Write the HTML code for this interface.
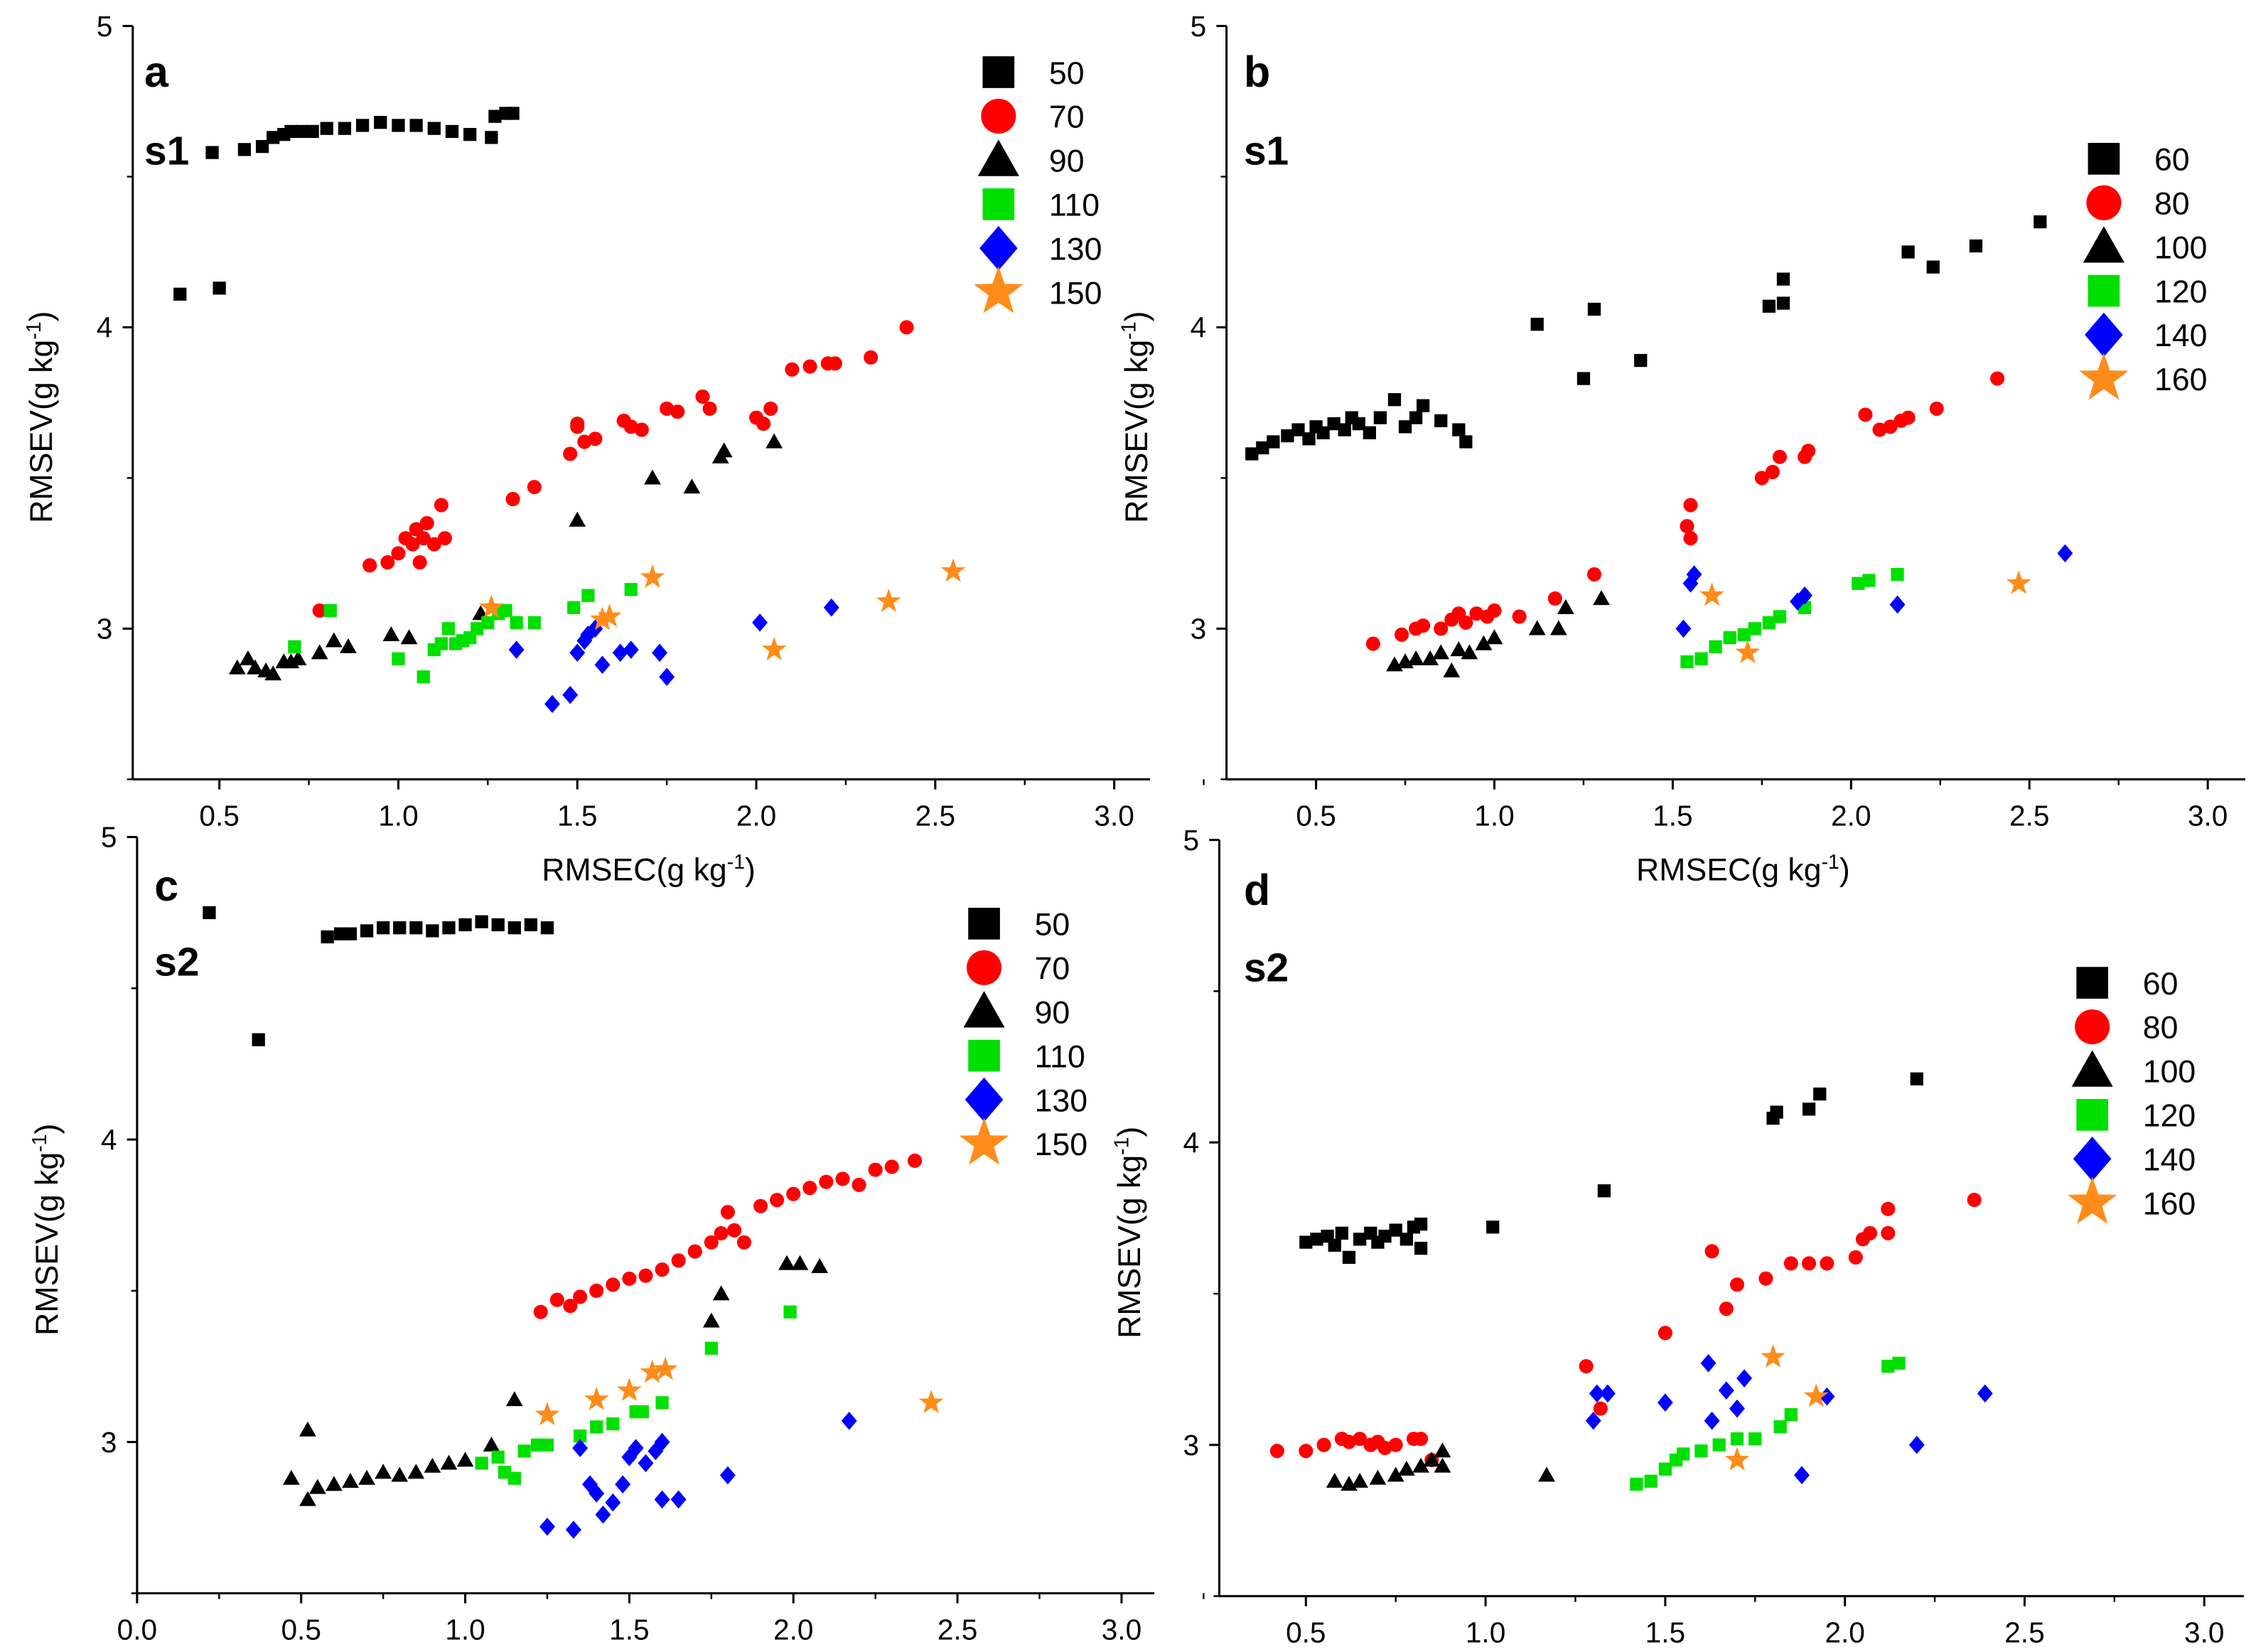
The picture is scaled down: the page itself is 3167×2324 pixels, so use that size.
<!DOCTYPE html>
<html><head><meta charset="utf-8"><style>
html,body{margin:0;padding:0;background:#fff}
svg{display:block}
text{font-family:"Liberation Sans",Arial,sans-serif;fill:#000}
</style></head><body>
<svg id="chart" xmlns="http://www.w3.org/2000/svg" width="3167" height="2324" viewBox="0 0 1560 1144.7" preserveAspectRatio="none"></svg>
<script>
// ---------- DATA ----------
const aS50=[[0.39,4.11],[0.5,4.13],[0.48,4.58],[0.57,4.59],[0.62,4.6],[0.65,4.63],[0.68,4.64],[0.7,4.65],[0.73,4.65],[0.76,4.65],[0.8,4.66],[0.85,4.66],[0.9,4.67],[0.95,4.68],[1.0,4.67],[1.05,4.67],[1.1,4.66],[1.15,4.65],[1.2,4.64],[1.26,4.63],[1.27,4.7],[1.3,4.71],[1.32,4.71]];
const aS70=[[0.78,3.06],[0.92,3.21],[0.97,3.22],[1.0,3.25],[1.02,3.3],[1.04,3.28],[1.05,3.33],[1.07,3.3],[1.08,3.35],[1.06,3.22],[1.1,3.28],[1.13,3.3],[1.12,3.41],[1.32,3.43],[1.38,3.47],[1.48,3.58],[1.5,3.67],[1.52,3.62],[1.55,3.63],[1.5,3.68],[1.63,3.69],[1.65,3.67],[1.68,3.66],[1.75,3.73],[1.78,3.72],[1.85,3.77],[1.87,3.73],[2.0,3.7],[2.02,3.68],[2.04,3.73],[2.1,3.86],[2.15,3.87],[2.2,3.88],[2.22,3.88],[2.32,3.9],[2.42,4.0]];
const aS90=[[0.55,2.87],[0.58,2.9],[0.6,2.87],[0.63,2.86],[0.65,2.85],[0.68,2.89],[0.7,2.89],[0.72,2.9],[0.78,2.92],[0.82,2.96],[0.86,2.94],[0.98,2.98],[1.03,2.97],[1.23,3.05],[1.5,3.36],[1.71,3.5],[1.82,3.47],[1.9,3.57],[1.91,3.59],[2.05,3.62]];
const aS110=[[0.71,2.94],[0.81,3.06],[1.0,2.9],[1.07,2.84],[1.1,2.93],[1.12,2.95],[1.14,3.0],[1.16,2.95],[1.18,2.96],[1.2,2.97],[1.22,3.0],[1.25,3.02],[1.28,3.05],[1.3,3.06],[1.33,3.02],[1.38,3.02],[1.49,3.07],[1.53,3.11],[1.65,3.13]];
const aS130=[[1.33,2.93],[1.43,2.75],[1.48,2.78],[1.5,2.92],[1.52,2.96],[1.53,2.98],[1.55,3.0],[1.57,2.88],[1.62,2.92],[1.65,2.93],[1.73,2.92],[1.75,2.84],[2.01,3.02],[2.21,3.07]];
const aS150=[[1.26,3.07],[1.57,3.03],[1.59,3.04],[1.71,3.17],[2.05,2.93],[2.37,3.09],[2.55,3.19]];

const bS60=[[0.32,3.58],[0.35,3.6],[0.38,3.62],[0.42,3.64],[0.45,3.66],[0.48,3.63],[0.5,3.67],[0.52,3.65],[0.55,3.68],[0.58,3.66],[0.6,3.7],[0.62,3.68],[0.65,3.65],[0.68,3.7],[0.72,3.76],[0.75,3.67],[0.78,3.7],[0.8,3.74],[0.85,3.69],[0.9,3.66],[0.92,3.62],[1.12,4.01],[1.25,3.83],[1.28,4.06],[1.41,3.89],[1.77,4.07],[1.81,4.08],[1.81,4.16],[2.16,4.25],[2.23,4.2],[2.35,4.27],[2.53,4.35]];
const bS80=[[0.66,2.95],[0.74,2.98],[0.78,3.0],[0.8,3.01],[0.85,3.0],[0.88,3.03],[0.9,3.05],[0.92,3.02],[0.95,3.05],[0.98,3.04],[1.0,3.06],[1.07,3.04],[1.17,3.1],[1.28,3.18],[1.55,3.41],[1.54,3.34],[1.55,3.3],[1.75,3.5],[1.78,3.52],[1.8,3.57],[1.87,3.57],[1.88,3.59],[2.04,3.71],[2.08,3.66],[2.11,3.67],[2.14,3.69],[2.16,3.7],[2.24,3.73],[2.41,3.83]];
const bS100=[[0.72,2.88],[0.75,2.89],[0.78,2.9],[0.82,2.9],[0.85,2.92],[0.88,2.86],[0.9,2.93],[0.93,2.92],[0.97,2.95],[1.0,2.97],[1.12,3.0],[1.18,3.0],[1.2,3.07],[1.3,3.1]];
const bS120=[[1.54,2.89],[1.58,2.9],[1.62,2.94],[1.66,2.97],[1.7,2.98],[1.73,3.0],[1.77,3.02],[1.8,3.04],[1.87,3.07],[2.02,3.15],[2.05,3.16],[2.13,3.18]];
const bS140=[[1.53,3.0],[1.55,3.15],[1.56,3.18],[1.85,3.09],[1.87,3.11],[2.13,3.08],[2.6,3.25]];
const bS160=[[1.61,3.11],[1.71,2.92],[2.47,3.15]];

const cS50=[[0.22,4.75],[0.37,4.33],[0.58,4.67],[0.62,4.68],[0.65,4.68],[0.7,4.69],[0.75,4.7],[0.8,4.7],[0.85,4.7],[0.9,4.69],[0.95,4.7],[1.0,4.71],[1.05,4.72],[1.1,4.71],[1.15,4.7],[1.2,4.71],[1.25,4.7]];
const cS70=[[1.23,3.43],[1.28,3.47],[1.32,3.45],[1.35,3.48],[1.4,3.5],[1.45,3.52],[1.5,3.54],[1.55,3.55],[1.6,3.57],[1.65,3.6],[1.7,3.63],[1.75,3.66],[1.78,3.69],[1.8,3.76],[1.82,3.7],[1.85,3.66],[1.9,3.78],[1.95,3.8],[2.0,3.82],[2.05,3.84],[2.1,3.86],[2.15,3.87],[2.2,3.85],[2.25,3.9],[2.3,3.91],[2.37,3.93]];
const cS90=[[0.47,2.88],[0.52,3.04],[0.52,2.81],[0.55,2.85],[0.6,2.86],[0.65,2.87],[0.7,2.88],[0.75,2.9],[0.8,2.89],[0.85,2.9],[0.9,2.92],[0.95,2.93],[1.0,2.94],[1.08,2.99],[1.15,3.14],[1.75,3.4],[1.78,3.49],[1.98,3.59],[2.02,3.59],[2.08,3.58]];
const cS110=[[1.05,2.93],[1.1,2.95],[1.12,2.9],[1.15,2.88],[1.18,2.97],[1.22,2.99],[1.25,2.99],[1.35,3.02],[1.4,3.05],[1.45,3.06],[1.52,3.1],[1.54,3.1],[1.6,3.13],[1.75,3.31],[1.99,3.43]];
const cS130=[[1.25,2.72],[1.33,2.71],[1.35,2.98],[1.38,2.86],[1.4,2.83],[1.42,2.76],[1.45,2.8],[1.48,2.86],[1.5,2.95],[1.52,2.98],[1.55,2.93],[1.58,2.97],[1.6,3.0],[1.6,2.81],[1.65,2.81],[1.8,2.89],[2.17,3.07]];
const cS150=[[1.25,3.09],[1.4,3.14],[1.5,3.17],[1.57,3.23],[1.61,3.24],[2.42,3.13]];

const dS60=[[0.5,3.67],[0.53,3.68],[0.56,3.69],[0.58,3.66],[0.6,3.7],[0.62,3.62],[0.65,3.68],[0.68,3.7],[0.7,3.67],[0.72,3.69],[0.75,3.71],[0.78,3.68],[0.8,3.72],[0.82,3.65],[0.82,3.73],[1.02,3.72],[1.33,3.84],[1.8,4.08],[1.81,4.1],[1.9,4.11],[1.93,4.16],[2.2,4.21]];
const dS80=[[0.42,2.98],[0.5,2.98],[0.55,3.0],[0.6,3.02],[0.62,3.01],[0.65,3.02],[0.68,3.0],[0.7,3.01],[0.72,2.99],[0.75,3.0],[0.8,3.02],[0.82,3.02],[0.85,2.95],[1.28,3.26],[1.32,3.12],[1.5,3.37],[1.63,3.64],[1.67,3.45],[1.7,3.53],[1.78,3.55],[1.85,3.6],[1.9,3.6],[1.95,3.6],[2.03,3.62],[2.05,3.68],[2.07,3.7],[2.12,3.78],[2.12,3.7],[2.36,3.81]];
const dS100=[[0.58,2.88],[0.62,2.87],[0.65,2.88],[0.7,2.89],[0.75,2.9],[0.78,2.92],[0.82,2.93],[0.85,2.95],[0.88,2.98],[0.88,2.93],[1.17,2.9]];
const dS120=[[1.42,2.87],[1.46,2.88],[1.5,2.92],[1.53,2.95],[1.55,2.97],[1.6,2.98],[1.65,3.0],[1.7,3.02],[1.75,3.02],[1.82,3.06],[1.85,3.1],[2.12,3.26],[2.15,3.27]];
const dS140=[[1.3,3.08],[1.31,3.17],[1.34,3.17],[1.5,3.14],[1.62,3.27],[1.63,3.08],[1.67,3.18],[1.7,3.12],[1.72,3.22],[1.88,2.9],[1.95,3.16],[2.2,3.0],[2.39,3.17]];
const dS160=[[1.7,2.95],[1.8,3.29],[1.92,3.16]];

const legendA=["50","70","90","110","130","150"];
const legendB=["60","80","100","120","140","160"];
const xTicksAB=[0.5,1.0,1.5,2.0,2.5,3.0];
const xTicksC=[0.0,0.5,1.0,1.5,2.0,2.5,3.0];
const yTicks=[3,4,5];

// ---------- DRAW ----------
const NS="http://www.w3.org/2000/svg";
const svg=document.getElementById('chart');
function mk(tag,attrs,parent){const e=document.createElementNS(NS,tag);for(const k in attrs)e.setAttribute(k,attrs[k]);(parent||svg).appendChild(e);return e;}
const styles=[
 {shape:'square',color:'#000'},{shape:'circle',color:'#ff0000'},{shape:'tri',color:'#000'},
 {shape:'square',color:'#00e000'},{shape:'diamond',color:'#0000ff'},{shape:'star',color:'#ff8c1a'}];
function marker(g,shape,color,cx,cy,s){
 let el;
 if(shape==='square') el=mk('rect',{x:cx-s/2,y:cy-s/2,width:s,height:s,fill:color},g);
 else if(shape==='circle') el=mk('circle',{cx:cx,cy:cy,r:s*0.55,fill:color},g);
 else if(shape==='tri') el=mk('polygon',{points:`${cx},${cy-s*0.65} ${cx-s*0.65},${cy+s*0.5} ${cx+s*0.65},${cy+s*0.5}`,fill:color},g);
 else if(shape==='diamond') el=mk('polygon',{points:`${cx},${cy-s*0.7} ${cx+s*0.6},${cy} ${cx},${cy+s*0.7} ${cx-s*0.6},${cy}`,fill:color},g);
 else { let p=[];for(let i=0;i<10;i++){const r=i%2?s*0.3:s*0.75;const a=-Math.PI/2+i*Math.PI/5;p.push((cx+r*Math.cos(a)).toFixed(2)+','+(cy+r*Math.sin(a)).toFixed(2));}
  el=mk('polygon',{points:p.join(' '),fill:color},g);}
 return el;
}
const panels=[
 {id:'a',label:'a',sub:'s1',L:92,R:797,T:18,B:540,x0:0.258,x1:3.1,y0:2.5,y1:5,series:[aS50,aS70,aS90,aS110,aS130,aS150],leg:legendA,legX:692,legY:50,xt:xTicksAB,xTitle:true,yTitleX:28,labX:100,labY:60,subY:114},
 {id:'b',label:'b',sub:'s1',L:850,R:1556,T:18,B:540,x0:0.249,x1:3.105,y0:2.5,y1:5,series:[bS60,bS80,bS100,bS120,bS140,bS160],leg:legendB,legX:1458,legY:110,xt:xTicksAB,xTitle:true,yTitleX:787,labX:862,labY:60,subY:114},
 {id:'c',label:'c',sub:'s2',L:95,R:800,T:580,B:1104,x0:0,x1:3.1,y0:2.5,y1:5,series:[cS50,cS70,cS90,cS110,cS130,cS150],leg:legendA,legX:682,legY:640,xt:xTicksC,xTitle:false,yTitleX:32,labX:107,labY:624,subY:676},
 {id:'d',label:'d',sub:'s2',L:845,R:1555,T:582,B:1106,x0:0.259,x1:3.11,y0:2.5,y1:5,series:[dS60,dS80,dS100,dS120,dS140,dS160],leg:legendB,legX:1450,legY:681,xt:xTicksAB,xTitle:false,yTitleX:782,labX:862,labY:627,subY:680}
];
panels.forEach(p=>{
 const g=mk('g',{});
 
 
 const X=v=>p.L+(v-p.x0)/(p.x1-p.x0)*(p.R-p.L);
 const Y=v=>p.B-(v-p.y0)/(p.y1-p.y0)*(p.B-p.T);
 // axes
 const ya=mk('line',{x1:p.L,y1:p.T,x2:p.L,y2:p.B,stroke:'#000','stroke-width':1.5},g);
 
 
 const xa=mk('line',{x1:p.L,y1:p.B,x2:p.R,y2:p.B,stroke:'#000','stroke-width':1.5},g);
 
 
 // x ticks
 p.xt.forEach(v=>{
  mk('line',{x1:X(v),y1:p.B,x2:X(v),y2:p.B+7,stroke:'#000','stroke-width':1.5},g);
  mk('line',{x1:X(v+0.25),y1:p.B,x2:X(v+0.25),y2:p.B+4,stroke:'#000','stroke-width':1.2},g);
  const t=mk('text',{x:X(v),y:p.B+32,'text-anchor':'middle','font-size':20},g);
  t.textContent=v.toFixed(1);
  
  
 });
 yTicks.forEach(v=>{
  mk('line',{x1:p.L,y1:Y(v),x2:p.L-7,y2:Y(v),stroke:'#000','stroke-width':1.5},g);
  if(v>p.y0) mk('line',{x1:p.L,y1:Y(v-0.5),x2:p.L-4,y2:Y(v-0.5),stroke:'#000','stroke-width':1.2},g);
  const t=mk('text',{x:p.L-14,y:Y(v)+7,'text-anchor':'end','font-size':20},g);
  t.textContent=String(v);
  
  
 });
 // y title
 const cy=(p.T+p.B)/2+10;
 const yt=mk('text',{x:0,y:0,'text-anchor':'middle','font-size':22,transform:`translate(${p.yTitleX+8},${cy}) rotate(-90)`},g);
 yt.innerHTML='RMSEV(g kg<tspan dy="-8" font-size="14">-1</tspan><tspan dy="8">)</tspan>';
 
 
 if(p.xTitle){
  const xt=mk('text',{x:(p.L+p.R)/2+5,y:p.B+70,'text-anchor':'middle','font-size':22},g);
  xt.innerHTML='RMSEC(g kg<tspan dy="-8" font-size="14">-1</tspan><tspan dy="8">)</tspan>';
  
  
 }
 const lb=mk('text',{x:p.labX,y:p.labY,'font-size':30,'font-weight':'bold'},g);
 lb.textContent=p.label;
 
 
 const sb=mk('text',{x:p.labX,y:p.subY,'font-size':28,'font-weight':'bold'},g);
 sb.textContent=p.sub;
 
 
 // series
 p.series.forEach((arr,si)=>{
  const st=styles[si];
  arr.forEach(pt=>{
   const m=marker(g,st.shape,st.color,X(pt[0]),Y(pt[1]),st.shape==='star'?12:9);
   
   
  });
 });
 // legend
 p.leg.forEach((name,i)=>{
  const yy=p.legY+i*30.5;
  const st=styles[i];
  const m=marker(g,st.shape,st.color,p.legX,yy,st.shape==='star'?24:22);
  
  
  const t=mk('text',{x:p.legX+35,y:yy+8,'font-size':22},g);
  t.textContent=name;
  
  
 });
});
</script>
</body></html>
